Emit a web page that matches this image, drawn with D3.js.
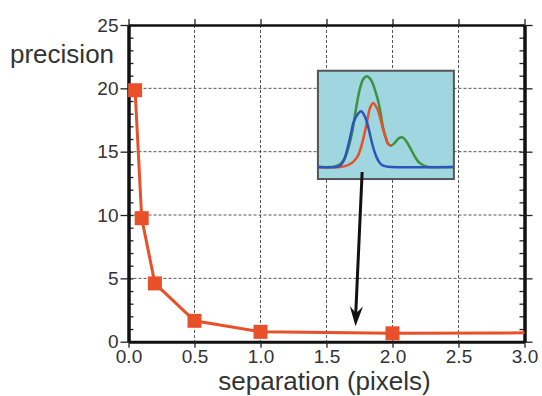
<!DOCTYPE html>
<html>
<head>
<meta charset="utf-8">
<script src="https://cdnjs.cloudflare.com/ajax/libs/d3/7.8.5/d3.min.js"></script>
<style>
  body { margin: 0; background: #fff; }
  svg text { font-family: "Liberation Sans", Arial, Helvetica, sans-serif; fill: #333; }
</style>
</head>
<body>
<div id="chart-area"></div>
<script>
// data
var separation = [0.05, 0.1, 0.2, 0.5, 1.0, 2.0, 3.0];
var precision  = [19.85, 9.75, 4.6, 1.65, 0.78, 0.66, 0.7];
var markerShown = [true, true, true, true, true, true, false];
var xTicks = [0, 0.5, 1.0, 1.5, 2.0, 2.5, 3.0];
var yTicks = [0, 5, 10, 15, 20, 25];
var yMinor = d3.range(0, 26, 1);

// inset curves (u: 0..100 across, v: 0..100 up)
var greenCurve = [[0,11.1],[9,11.1],[13,11.8],[17,14.5],[20,20],[22.4,28.6],[25,42],[27.3,59.4],[29,72],[31,84],[33.5,92.5],[35.9,94.8],[38.5,92.5],[40.7,87],[42.5,80],[44.4,71.7],[46.2,60],[48,47],[50,38],[51.7,32.3],[53.7,30.8],[55.8,32.5],[57.8,35.4],[59.7,37.8],[61.5,38.5],[63.5,37.3],[66.3,32.3],[68.8,26.5],[71.2,21],[73.5,16.6],[76,13.8],[79,11.8],[82,11.1],[100,11.1]];
var redCurve = [[0,11.1],[16,11.1],[20,11.9],[24.9,14.8],[27.5,18],[29.8,22.5],[32.3,32],[34.6,44],[36.5,55.5],[38.3,65.5],[40.7,70.2],[42.5,67.5],[44.4,62.5],[46.2,54.5],[48,45.5],[50,37.5],[51.7,32.3],[53.7,30.8]];
var blueCurve = [[0,11.1],[13,11.1],[16,12.3],[19,17],[22.4,31.7],[24.3,42],[26,51.7],[28.5,58.5],[31.7,62.5],[33.8,59.5],[35.9,53.2],[37.7,44.5],[39.5,34.8],[41.3,26.5],[43.2,20],[45,15.8],[46.8,13.2],[50,11.7],[54,11.1],[100,11.1]];

// inset box and arrow in chart units
var insetX = [1.435, 2.465];
var insetY = [12.84, 21.39];
var arrowFrom = [1.77, 13.4];
var arrowTo = [1.72, 1.22];

var margin = {top: 25, right: 17.5, bottom: 54.3, left: 128.5};
var width = 542 - margin.left - margin.right,
    height = 396 - margin.top - margin.bottom;

var orange = "#e8502a";

var svg = d3.select("#chart-area")
  .append("svg")
  .attr("width", 542)
  .attr("height", 396)
  .append("g")
  .attr("transform", "translate(" + margin.left + "," + margin.top + ")");

var xScale = d3.scaleLinear().domain([0, 3]).range([0, width]);
var yScale = d3.scaleLinear().domain([0, 25]).range([height, 0]);

// grid
svg.append("g").selectAll("line.vgrid")
  .data(xTicks.slice(1, -1))
  .enter().append("line")
  .attr("x1", function(d) { return xScale(d); })
  .attr("x2", function(d) { return xScale(d); })
  .attr("y1", 0).attr("y2", height)
  .attr("stroke", "#555").attr("stroke-width", 1).attr("stroke-dasharray", "3,2");

svg.append("g").selectAll("line.hgrid")
  .data(yTicks.slice(1, -1))
  .enter().append("line")
  .attr("y1", function(d) { return yScale(d); })
  .attr("y2", function(d) { return yScale(d); })
  .attr("x1", 0).attr("x2", width)
  .attr("stroke", "#555").attr("stroke-width", 1).attr("stroke-dasharray", "3,2");

// minor ticks inside left and right
var minorLeft = d3.axisLeft(yScale).tickValues(yMinor).tickSizeInner(-5).tickSizeOuter(0).tickFormat("");
var minorRight = d3.axisRight(yScale).tickValues(yMinor).tickSizeInner(-5).tickSizeOuter(0).tickFormat("");
svg.append("g").attr("class", "minor").call(minorLeft);
svg.append("g").attr("class", "minor").attr("transform", "translate(" + width + ",0)").call(minorRight);

// axes
var xAxis = d3.axisBottom(xScale).tickValues(xTicks).tickSize(6).tickSizeOuter(0).tickPadding(2)
  .tickFormat(d3.format(".1f"));
var xTop = d3.axisTop(xScale).tickValues(xTicks).tickSize(6).tickSizeOuter(0).tickFormat("");
var yAxis = d3.axisLeft(yScale).tickValues(yTicks).tickSize(8).tickSizeOuter(0).tickPadding(2);
var yRight = d3.axisRight(yScale).tickValues(yTicks).tickSize(8).tickSizeOuter(0).tickFormat("");

svg.append("g").attr("class", "axis").attr("transform", "translate(0," + height + ")").call(xAxis);
svg.append("g").attr("class", "axis top").call(xTop);
svg.append("g").attr("class", "axis").call(yAxis);
svg.append("g").attr("class", "axis").attr("transform", "translate(" + width + ",0)").call(yRight);

svg.selectAll(".axis .domain, .minor .domain").attr("stroke", "#111").attr("stroke-width", 3);
svg.selectAll(".top .domain").attr("stroke-width", 2.5);
svg.selectAll(".axis .tick line, .minor .tick line").attr("stroke", "#222").attr("stroke-width", 1.3);
svg.selectAll(".axis text").attr("font-size", "19px").attr("fill", "#333");

// data line
var line = d3.line()
  .x(function(d, i) { return xScale(separation[i]); })
  .y(function(d) { return yScale(d); });

svg.append("path")
  .datum(precision)
  .attr("d", line)
  .attr("fill", "none")
  .attr("stroke", orange)
  .attr("stroke-width", 3);

svg.selectAll("rect.marker")
  .data(precision.filter(function(d, i) { return markerShown[i]; }))
  .enter().append("rect")
  .attr("class", "marker")
  .attr("x", function(d, i) { return xScale(separation[i]) - 7; })
  .attr("y", function(d) { return yScale(d) - 7; })
  .attr("width", 14).attr("height", 14)
  .attr("fill", orange);

// labels
svg.append("text")
  .attr("x", -margin.left + 10)
  .attr("y", 38)
  .attr("font-size", "26px")
  .text("precision");

svg.append("text")
  .attr("x", width / 2 - 2)
  .attr("y", height + 48)
  .attr("text-anchor", "middle")
  .attr("font-size", "26px")
  .text("separation (pixels)");

// inset
var ix0 = xScale(insetX[0]), ix1 = xScale(insetX[1]);
var iy0 = yScale(insetY[1]), iy1 = yScale(insetY[0]);
var inset = svg.append("g").attr("transform", "translate(" + ix0 + "," + iy0 + ")");
inset.append("rect")
  .attr("width", ix1 - ix0).attr("height", iy1 - iy0)
  .attr("fill", "#9fd6df")
  .attr("stroke", "#555").attr("stroke-width", 2);

var uScale = d3.scaleLinear().domain([0, 100]).range([0, ix1 - ix0]);
var vScale = d3.scaleLinear().domain([0, 100]).range([iy1 - iy0, 0]);
var curve = d3.line()
  .x(function(d) { return uScale(d[0]); })
  .y(function(d) { return vScale(d[1]); })
  .curve(d3.curveCatmullRom);

[[greenCurve, "#3d9140"], [redCurve, "#e8502a"], [blueCurve, "#2b55b8"]].forEach(function(c) {
  inset.append("path")
    .datum(c[0])
    .attr("d", curve)
    .attr("fill", "none")
    .attr("stroke", c[1])
    .attr("stroke-width", 2.5);
});

// arrow
var ax0 = xScale(arrowFrom[0]), ay0 = yScale(arrowFrom[1]);
var ax1 = xScale(arrowTo[0]), ay1 = yScale(arrowTo[1]);
svg.append("line")
  .attr("x1", ax0).attr("y1", ay0)
  .attr("x2", ax1).attr("y2", ay1 - 8)
  .attr("stroke", "#111").attr("stroke-width", 3);

var ang = Math.atan2(ay1 - ay0, ax1 - ax0);
function pt(len, a) { return [ax1 - len * Math.cos(ang + a), ay1 - len * Math.sin(ang + a)]; }
var head = [[ax1, ay1], pt(21, 0.32), pt(13, 0), pt(21, -0.32)];
svg.append("path")
  .attr("d", "M" + head.join("L") + "Z")
  .attr("fill", "#111");
</script>
</body>
</html>
